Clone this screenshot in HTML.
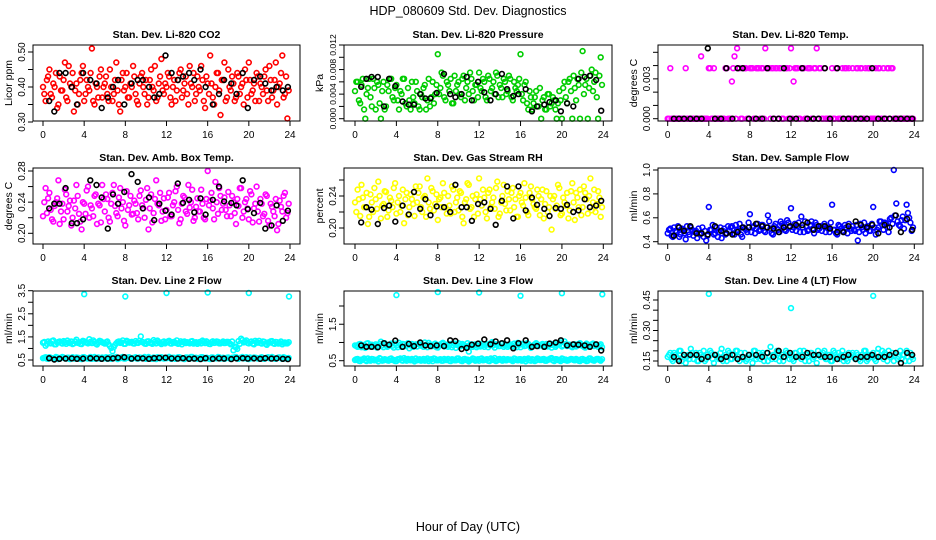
<!DOCTYPE html>
<html><head><meta charset="utf-8"><style>
html,body{margin:0;padding:0;background:#fff;}
svg{display:block;font-family:"Liberation Sans",Arial,sans-serif;}
</style></head><body>
<svg id="chart" width="936" height="540" viewBox="0 0 936 540" xmlns="http://www.w3.org/2000/svg">
<text x="468" y="15" text-anchor="middle" font-size="12.5">HDP_080609  Std. Dev. Diagnostics</text>
<text x="468" y="531" text-anchor="middle" font-size="12.5">Hour of Day (UTC)</text>
</svg>
<script>
// ---------- data ----------
const hours96 = [0,.25,.5,.75,1,1.25,1.5,1.75,2,2.25,2.5,2.75,3,3.25,3.5,3.75,4,4.25,4.5,4.75,5,5.25,5.5,5.75,6,6.25,6.5,6.75,7,7.25,7.5,7.75,8,8.25,8.5,8.75,9,9.25,9.5,9.75,10,10.25,10.5,10.75,11,11.25,11.5,11.75,12,12.25,12.5,12.75,13,13.25,13.5,13.75,14,14.25,14.5,14.75,15,15.25,15.5,15.75,16,16.25,16.5,16.75,17,17.25,17.5,17.75,18,18.25,18.5,18.75,19,19.25,19.5,19.75,20,20.25,20.5,20.75,21,21.25,21.5,21.75,22,22.25,22.5,22.75,23,23.25,23.5,23.75];
const hours96b = [.125,.375,.625,.875,1.125,1.375,1.625,1.875,2.125,2.375,2.625,2.875,3.125,3.375,3.625,3.875,4.125,4.375,4.625,4.875,5.125,5.375,5.625,5.875,6.125,6.375,6.625,6.875,7.125,7.375,7.625,7.875,8.125,8.375,8.625,8.875,9.125,9.375,9.625,9.875,10.125,10.375,10.625,10.875,11.125,11.375,11.625,11.875,12.125,12.375,12.625,12.875,13.125,13.375,13.625,13.875,14.125,14.375,14.625,14.875,15.125,15.375,15.625,15.875,16.125,16.375,16.625,16.875,17.125,17.375,17.625,17.875,18.125,18.375,18.625,18.875,19.125,19.375,19.625,19.875,20.125,20.375,20.625,20.875,21.125,21.375,21.625,21.875,22.125,22.375,22.625,22.875,23.125,23.375,23.625,23.875];
const blackHours = [0.6,1.1,1.6,2.2,2.8,3.3,3.9,4.6,5.2,5.7,6.3,6.8,7.3,7.9,8.6,9.2,9.7,10.3,10.8,11.3,11.9,12.5,13.1,13.6,14.2,14.7,15.3,15.8,16.5,17.1,17.6,18.3,18.8,19.4,19.9,20.5,21.1,21.6,22.2,22.7,23.3,23.8];
const outlierHours6 = [4,8,12,16,20,23.9];
const outlierHours3 = [4,12,20];
const xTicks = [0,4,8,12,16,20,24];

const co2Red = [.40,.36,.43,.38,.41,.44,.35,.39,.42,.37,.46,.40,
.33,.41,.38,.44,.36,.42,.39,.51,.35,.40,.43,.37,
.41,.38,.45,.36,.42,.39,.33,.44,.40,.37,.41,.46,
.38,.35,.43,.40,.42,.37,.45,.39,.36,.41,.48,.38,
.40,.43,.35,.42,.39,.44,.37,.41,.38,.46,.40,.36,
.43,.39,.42,.34,.41,.49,.37,.40,.44,.32,.42,.36,
.45,.39,.41,.37,.43,.40,.35,.42,.47,.38,.41,.44,
.36,.40,.43,.39,.46,.37,.42,.35,.41,.49,.38,.31];
const co2Red2 = [.38,.42,.45,.37,.40,.34,.43,.39,.47,.36,.41,.44,
.39,.35,.42,.46,.38,.40,.44,.36,.41,.37,.45,.40,
.43,.36,.40,.38,.47,.35,.42,.39,.44,.37,.40,.43,
.36,.41,.44,.38,.35,.42,.40,.46,.37,.43,.39,.41,
.44,.37,.40,.36,.42,.45,.39,.43,.35,.41,.44,.38,
.40,.46,.36,.43,.38,.41,.35,.44,.39,.42,.47,.37,
.40,.43,.36,.44,.38,.41,.45,.37,.42,.39,.36,.43,
.41,.38,.45,.36,.42,.39,.47,.40,.44,.37,.43,.39];
const co2Black = [.36,.33,.44,.44,.40,.35,.44,.42,.41,.34,.37,.40,.42,.35,.41,.42,.42,.40,.37,.38,.49,.44,.42,.43,.44,.42,.45,.40,.35,.38,.42,.41,.38,.44,.34,.42,.43,.41,.39,.40,.39,.40];

const presGreen = [.0045,.0060,.0025,.0065,.0000,.0050,.0035,.0065,.0015,.0055,.0000,.0060,.0020,.0045,.0065,.0030,
.0055,.0015,.0040,.0065,.0020,.0030,.0060,.0025,.0045,.0015,.0035,.0055,.0030,.0020,.0060,.0040,
.0105,.0050,.0070,.0030,.0055,.0065,.0025,.0045,.0060,.0035,.0070,.0050,.0040,.0065,.0030,.0055,
.0075,.0045,.0060,.0030,.0065,.0050,.0040,.0070,.0055,.0035,.0060,.0045,.0065,.0030,.0050,.0055,
.0105,.0030,.0060,.0015,.0035,.0025,.0045,.0020,.0000,.0035,.0015,.0040,.0025,.0030,.0000,.0045,
.0000,.0060,.0025,.0065,.0000,.0050,.0065,.0000,.0110,.0055,.0000,.0070,.0045,.0075,.0000,.0100];
const presGreen2 = [.0060,.0030,.0055,.0015,.0040,.0065,.0020,.0050,.0060,.0025,.0045,.0015,.0055,.0065,.0035,.0050,
.0030,.0045,.0065,.0025,.0050,.0015,.0035,.0060,.0020,.0040,.0050,.0015,.0065,.0035,.0025,.0055,
.0040,.0075,.0035,.0060,.0045,.0025,.0070,.0055,.0040,.0065,.0030,.0060,.0075,.0045,.0055,.0035,
.0050,.0065,.0035,.0070,.0045,.0060,.0075,.0035,.0050,.0065,.0040,.0070,.0035,.0060,.0045,.0065,
.0040,.0055,.0025,.0045,.0015,.0035,.0020,.0050,.0030,.0015,.0040,.0020,.0035,.0015,.0025,.0030,
.0050,.0035,.0060,.0045,.0070,.0030,.0055,.0075,.0040,.0065,.0050,.0080,.0060,.0035,.0070,.0055];
const presBlack = [.0052,.0065,.0068,.0068,.0020,.0065,.0053,.0028,.0023,.0023,.0040,.0033,.0033,.0042,.0073,.0040,.0035,.0040,.0068,.0030,.0060,.0043,.0030,.0040,.0073,.0048,.0037,.0040,.0048,.0012,.0020,.0023,.0027,.0030,.0012,.0025,.0020,.0065,.0068,.0070,.0063,.0013];

const tempMagenta = [0,.0038,0,0,0,0,0,.0038,0,0,0,0,
0,.0047,0,0,.0038,0,.0038,0,0,0,0,.0038,
0,.0028,.0047,.0053,.0038,0,.0038,0,.0038,.0038,0,.0038,
0,.0038,.0053,.0038,0,.0038,.0038,0,.0038,0,.0038,0,
.0053,.0028,.0038,0,.0038,.0038,0,.0038,0,.0038,.0053,.0038,
0,.0038,0,0,.0038,0,.0038,0,.0038,.0038,0,0,
.0038,0,.0038,.0038,0,.0038,.0038,0,0,.0038,.0038,0,
.0038,0,.0038,.0038,0,0,0,0,0,0,0,0];
const tempMagenta2 = [0,0,0,0,0,0,0,0,0,0,0,0,
0,0,0,0,.0038,0,0,0,0,0,.0038,0,
0,.0038,0,.0038,0,.0038,.0038,0,.0038,0,.0038,.0038,
.0038,0,.0038,.0038,.0038,0,.0038,.0038,0,.0038,.0038,.0038,
0,.0038,.0038,0,.0038,0,.0038,.0038,0,.0038,0,.0038,
0,0,0,0,0,.0038,0,0,0,.0038,.0038,0,
0,.0038,0,.0038,0,0,.0038,0,0,0,.0038,0,
0,.0038,0,.0038,0,0,0,0,0,0,0,0];
const tempBlack = [0,0,0,0,0,0,.0053,0,0,.0038,0,.0038,.0038,0,0,0,.0038,0,0,.0038,0,0,.0038,0,0,0,.0038,0,.0038,0,0,0,0,0,.0038,0,0,0,0,0,0,0];

const ambMagenta = [.222,.258,.245,.230,.215,.240,.268,.228,.218,.250,.235,.210,
.242,.262,.225,.205,.238,.255,.220,.232,.248,.212,.236,.262,
.228,.244,.215,.252,.235,.222,.258,.240,.210,.230,.248,.225,
.238,.218,.255,.232,.243,.205,.250,.226,.268,.236,.216,.245,
.230,.252,.222,.240,.260,.213,.238,.246,.225,.233,.256,.220,
.245,.228,.238,.218,.280,.242,.232,.266,.225,.248,.238,.230,
.253,.222,.240,.212,.235,.258,.228,.244,.218,.250,.232,.260,
.215,.238,.225,.248,.210,.234,.222,.204,.242,.228,.252,.226];
const ambMagenta2 = [.240,.226,.252,.218,.235,.245,.212,.238,.256,.228,.242,.220,
.232,.248,.215,.240,.225,.260,.236,.222,.250,.238,.214,.244,
.250,.220,.238,.262,.226,.246,.232,.216,.254,.236,.224,.242,
.226,.248,.236,.220,.258,.232,.214,.244,.238,.252,.228,.218,
.246,.222,.236,.254,.230,.218,.248,.228,.262,.240,.216,.234,
.228,.256,.220,.244,.236,.252,.218,.240,.258,.230,.246,.222,
.236,.248,.226,.244,.258,.220,.240,.232,.254,.214,.238,.228,
.244,.222,.250,.216,.238,.228,.244,.212,.234,.248,.220,.238];
const ambBlack = [.232,.238,.238,.258,.213,.213,.218,.268,.262,.246,.206,.250,.238,.253,.276,.266,.232,.246,.217,.238,.229,.224,.264,.239,.243,.227,.245,.224,.243,.260,.241,.239,.236,.268,.231,.226,.239,.206,.210,.236,.216,.229];

const rhYellow = [.232,.248,.215,.238,.226,.205,.242,.220,.236,.258,.212,.230,
.245,.222,.234,.250,.218,.240,.228,.206,.244,.226,.236,.215,
.232,.252,.220,.240,.262,.224,.246,.230,.210,.238,.256,.226,
.240,.218,.248,.232,.222,.244,.206,.236,.254,.226,.214,.242,
.262,.228,.238,.212,.248,.232,.224,.258,.218,.240,.230,.246,
.222,.250,.236,.214,.244,.228,.238,.216,.252,.230,.224,.240,
.236,.212,.246,.226,.198,.240,.228,.250,.218,.232,.244,.222,
.256,.210,.238,.248,.226,.244,.218,.262,.232,.220,.246,.214];
const rhYellow2 = [.220,.236,.254,.226,.244,.214,.232,.250,.224,.240,.228,.246,
.214,.238,.226,.256,.232,.220,.248,.236,.216,.242,.230,.252,
.244,.226,.238,.214,.232,.250,.222,.242,.236,.226,.244,.218,
.228,.252,.220,.238,.246,.214,.232,.256,.224,.240,.236,.218,
.236,.248,.220,.244,.226,.238,.250,.214,.232,.254,.222,.236,
.244,.226,.214,.240,.232,.256,.220,.244,.236,.226,.248,.216,
.248,.230,.220,.240,.236,.224,.254,.216,.238,.228,.212,.246,
.232,.244,.226,.216,.252,.236,.240,.222,.248,.230,.238,.226];
const rhBlack = [.207,.226,.223,.205,.225,.228,.208,.228,.217,.245,.224,.236,.216,.227,.226,.220,.254,.226,.226,.209,.230,.232,.224,.204,.234,.252,.212,.252,.222,.238,.229,.224,.215,.225,.224,.229,.220,.222,.236,.226,.228,.234];

const flowBlue = [.47,.51,.44,.49,.53,.46,.50,.42,.48,.52,.45,.49,
.51,.47,.44,.41,.69,.50,.46,.52,.48,.43,.51,.47,
.49,.53,.46,.50,.55,.44,.51,.48,.63,.52,.47,.55,
.50,.54,.48,.62,.51,.46,.55,.50,.57,.53,.49,.56,
.68,.52,.49,.56,.61,.48,.53,.50,.57,.47,.54,.51,
.49,.55,.52,.48,.71,.50,.46,.53,.49,.54,.47,.51,
.53,.49,.41,.55,.50,.47,.53,.49,.69,.46,.52,.57,
.50,.55,.48,.60,1.00,.72,.54,.58,.51,.71,.60,.49];
const flowBlue2 = [.50,.45,.52,.48,.44,.51,.47,.53,.46,.50,.48,.43,
.46,.52,.49,.45,.50,.54,.47,.44,.52,.49,.46,.53,
.52,.47,.54,.49,.46,.52,.50,.56,.48,.53,.51,.49,
.54,.49,.52,.57,.47,.53,.51,.48,.55,.50,.58,.52,
.50,.55,.53,.48,.52,.57,.49,.54,.51,.56,.50,.53,
.53,.48,.51,.56,.50,.47,.54,.51,.48,.52,.55,.49,
.50,.54,.48,.52,.56,.51,.49,.55,.52,.50,.57,.54,
.56,.52,.59,.55,.62,.57,.53,.61,.58,.64,.56,.52];
const flowBlack = [.45,.52,.49,.53,.47,.47,.46,.53,.49,.47,.46,.48,.52,.52,.55,.53,.52,.51,.48,.52,.53,.54,.54,.56,.50,.53,.53,.51,.48,.48,.53,.57,.54,.52,.54,.47,.54,.52,.62,.48,.59,.50];

const line2High = [1.25,1.12,1.30,1.22,1.35,1.18,1.28,1.24,1.32,1.20,1.26,1.30,
1.22,1.38,1.27,1.19,1.31,1.25,1.40,1.23,1.29,1.17,1.33,1.26,
1.21,1.30,1.10,0.88,1.15,1.28,1.24,1.35,1.20,1.30,1.26,1.22,
1.32,1.24,1.52,1.27,1.20,1.31,1.25,1.36,1.22,1.28,1.19,1.30,
1.26,1.33,1.21,1.29,1.35,1.24,1.18,1.30,1.27,1.22,1.32,1.25,
1.20,1.28,1.34,1.23,1.26,1.19,1.31,1.25,1.29,1.22,1.30,1.24,
1.28,1.18,0.92,1.05,1.32,1.42,1.26,1.35,1.22,1.30,1.18,1.27,
1.33,1.21,1.29,1.16,1.25,1.32,1.20,1.27,1.23,1.18,1.26,1.22];
const line2High2 = [1.28,1.20,1.24,1.32,1.18,1.26,1.30,1.21,1.27,1.34,1.23,1.19,
1.30,1.24,1.20,1.33,1.27,1.22,1.29,1.35,1.21,1.26,1.31,1.24,
1.27,1.18,1.02,1.06,1.22,1.30,1.26,1.20,1.33,1.25,1.29,1.21,
1.25,1.33,1.28,1.21,1.30,1.24,1.20,1.29,1.34,1.23,1.27,1.22,
1.30,1.22,1.27,1.24,1.20,1.31,1.28,1.23,1.25,1.30,1.21,1.27,
1.26,1.22,1.29,1.31,1.20,1.27,1.24,1.30,1.22,1.26,1.23,1.29,
1.22,1.30,1.08,0.98,1.20,1.36,1.30,1.24,1.28,1.21,1.33,1.25,
1.24,1.30,1.20,1.26,1.31,1.22,1.28,1.21,1.30,1.25,1.22,1.27];
const line2Low = [.58,.62,.55,.60,.57,.63,.54,.59,.61,.56,.60,.58,
.56,.61,.59,.54,.62,.57,.60,.55,.63,.58,.56,.61,
.59,.55,.62,.57,.60,.54,.58,.63,.56,.61,.57,.59,
.62,.56,.60,.58,.55,.63,.57,.61,.54,.59,.62,.56,
.58,.64,.55,.60,.57,.62,.59,.54,.61,.56,.63,.58,
.55,.60,.62,.57,.59,.54,.61,.58,.63,.56,.60,.57,
.61,.56,.59,.63,.55,.60,.57,.62,.54,.58,.61,.59,
.57,.62,.55,.60,.58,.63,.56,.59,.61,.55,.60,.57];
const line2Low2 = [.60,.56,.62,.58,.55,.61,.59,.63,.57,.60,.54,.62,
.57,.60,.55,.62,.59,.56,.63,.58,.55,.61,.59,.57,
.62,.58,.55,.60,.63,.57,.61,.56,.59,.62,.55,.60,
.56,.61,.58,.63,.57,.60,.55,.59,.62,.57,.60,.58,
.61,.57,.60,.55,.62,.58,.56,.61,.59,.63,.57,.60,
.58,.62,.56,.60,.55,.61,.59,.57,.62,.58,.55,.60,
.57,.60,.62,.56,.59,.63,.58,.55,.61,.57,.60,.56,
.60,.56,.59,.62,.57,.60,.55,.61,.58,.62,.56,.59];
const line2Out = [3.35,3.25,3.40,3.42,3.40,3.25];
const line2Black = [.58,.52,.55,.56,.57,.55,.56,.58,.57,.55,.56,.57,.60,.62,.56,.58,.57,.55,.58,.59,.60,.57,.56,.58,.55,.56,.54,.58,.55,.57,.56,.54,.57,.58,.56,.57,.55,.58,.56,.57,.55,.54];

const line3High = [.92,.88,.96,.90,.85,.98,.93,.89,.95,.91,1.02,.87,
.94,.90,.97,.86,.92,.99,.88,.95,.91,.84,.96,.93,
.89,.95,.92,1.00,.87,.94,.90,.97,.86,.93,.99,.91,
.88,.96,.92,.85,.98,.90,.94,.89,.75,.95,.92,.87,
.97,.91,.88,.95,.93,1.01,.86,.94,.90,.97,.92,.88,
.95,.89,.93,.99,.87,.94,.91,.96,.85,.92,.98,.90,
.93,.88,.96,.91,.86,.97,.92,.95,.89,1.03,.90,.94,
.87,.95,.91,.98,.92,.86,.94,.90,.97,.93,.88,.95];
const line3High2 = [.90,.95,.87,.93,.97,.89,.94,.91,.86,.96,.92,.98,
.88,.94,.91,.97,.87,.93,.96,.90,.98,.92,.88,.95,
.96,.91,.88,.94,.99,.90,.95,.87,.93,.97,.89,.94,
.92,.87,.97,.93,.89,.96,.91,.98,.94,.88,.95,.91,
.89,.96,.93,.87,.98,.92,.95,.90,.97,.88,.94,.92,
.91,.97,.87,.94,.96,.90,.98,.92,.88,.95,.91,.93,
.96,.91,.89,.97,.93,.88,.95,1.00,.92,.96,.94,.89,
.93,.89,.96,.92,.88,.97,.91,.95,.90,.94,.92,.87];
const line3Low = [.52,.55,.49,.53,.51,.56,.50,.54,.52,.48,.55,.51,
.53,.50,.56,.52,.49,.54,.51,.57,.50,.53,.55,.48,
.51,.54,.52,.50,.56,.53,.49,.55,.51,.54,.50,.52,
.55,.49,.53,.51,.56,.50,.54,.52,.48,.53,.55,.51,
.50,.56,.52,.54,.49,.53,.57,.51,.55,.50,.52,.54,
.53,.49,.55,.51,.54,.52,.48,.56,.50,.53,.51,.55,
.52,.55,.50,.53,.57,.49,.54,.51,.56,.52,.50,.53,
.54,.51,.53,.49,.55,.52,.50,.56,.51,.53,.55,.50];
const line3Low2 = [.54,.50,.53,.56,.49,.52,.55,.51,.53,.57,.50,.54,
.51,.55,.52,.49,.54,.56,.50,.53,.55,.51,.52,.56,
.53,.50,.55,.52,.49,.54,.56,.51,.53,.50,.55,.52,
.50,.54,.51,.56,.52,.49,.55,.53,.51,.56,.50,.54,
.55,.51,.53,.50,.56,.52,.49,.54,.52,.55,.51,.53,
.51,.56,.52,.54,.50,.55,.53,.51,.54,.49,.56,.52,
.54,.50,.53,.56,.51,.54,.52,.49,.55,.53,.51,.55,
.52,.55,.50,.54,.52,.49,.56,.53,.50,.55,.52,.54];
const line3Out = [2.30,2.38,2.37,2.28,2.35,2.32];
const line3Black = [.92,.88,.88,.87,.98,.94,1.05,.88,.96,.90,1.00,.92,.90,.92,.90,1.06,1.04,.82,.85,.94,.97,1.08,.95,1.03,.98,1.06,.84,.98,1.06,.88,.90,.88,.97,1.00,1.06,.92,.95,.94,.92,.88,.95,.78];

const line4Cyan = [.17,.19,.15,.18,.16,.20,.17,.14,.18,.21,.16,.19,
.15,.18,.20,.16,.17,.19,.14,.18,.16,.21,.17,.15,
.19,.16,.18,.20,.15,.17,.19,.16,.18,.14,.20,.17,
.16,.19,.17,.15,.22,.18,.16,.19,.17,.15,.20,.18,
.18,.15,.19,.17,.16,.20,.18,.15,.19,.17,.14,.18,
.17,.20,.16,.18,.15,.19,.17,.16,.20,.18,.15,.17,
.19,.16,.18,.15,.17,.20,.16,.18,.19,.15,.21,.17,
.16,.18,.20,.17,.15,.19,.17,.16,.18,.20,.15,.17];
const line4Cyan2 = [.18,.16,.19,.17,.20,.15,.18,.17,.16,.19,.18,.15,
.19,.17,.15,.18,.20,.16,.18,.17,.19,.15,.18,.20,
.16,.18,.20,.17,.19,.16,.15,.18,.17,.20,.16,.19,
.18,.15,.19,.17,.16,.18,.20,.15,.18,.17,.19,.16,
.16,.19,.17,.20,.18,.15,.17,.19,.16,.18,.20,.17,
.19,.16,.18,.15,.20,.17,.19,.18,.15,.16,.19,.18,
.17,.19,.16,.18,.20,.15,.18,.17,.16,.19,.17,.20,
.19,.15,.17,.19,.18,.16,.20,.18,.15,.17,.19,.16];
const line4Out = [.48,.41,.47];
const line4Black = [.17,.15,.18,.18,.18,.16,.17,.18,.16,.17,.18,.16,.17,.18,.18,.17,.19,.17,.20,.17,.19,.17,.17,.19,.18,.18,.17,.17,.16,.17,.18,.16,.17,.17,.18,.17,.17,.18,.19,.14,.19,.18];

// y tick values and printed labels
const ticksCo2 = [.30,.35,.40,.45,.50], labelsCo2 = ["0.30","0.40","0.50"];
const ticksPres = [0,.002,.004,.006,.008,.010,.012], labelsPres = ["0.000","0.004","0.008","0.012"];
const ticksTemp = [0,.001,.002,.003,.004,.005], labelsTemp = ["0.000","0.003"];
const ticksAmb = [.20,.22,.24,.26,.28], labelsAmb = ["0.20","0.24","0.28"];
const ticksRh = [.20,.22,.24,.26], labelsRh = ["0.20","0.24"];
const ticksFlow = [.4,.6,.8,1.0], labelsFlow = ["0.4","0.6","0.8","1.0"];
const ticksL2 = [.5,1,1.5,2,2.5,3,3.5], labelsL2 = ["0.5","1.5","2.5","3.5"];
const ticksL3 = [.5,1,1.5,2], labelsL3 = ["0.5","1.5"];
const ticksL4 = [.15,.20,.25,.30,.35,.40,.45], labelsL4 = ["0.15","0.30","0.45"];

// ---------- layout (geometry, not data) ----------
const colL=[33,344,658], colR=[300,612,923], colX0=[43,355,667.7], colX24=[290,603.3,914.3];
const rowT=[45,168,291], rowB=[121,244,366];
const NS="http://www.w3.org/2000/svg";
const svg=document.getElementById('chart');
function mk(tag,attrs,parent){const e=document.createElementNS(NS,tag);for(const k in attrs)e.setAttribute(k,attrs[k]);(parent||svg).appendChild(e);return e;}
const CY="cyan";

const panels=[
 {name:"co2",title:"Stan. Dev. Li-820 CO2",ylab:"Licor ppm",col:0,row:0,ref:[.30,122,.50,52],ticks:ticksCo2,labels:labelsCo2,fs:10,
  series:[{h:hours96,v:co2Red,c:"red",n:"red-points"},{h:hours96b,v:co2Red2,c:"red",n:"red-points-b"},{h:blackHours,v:co2Black,c:"black",n:"black-points"}]},
 {name:"pressure",title:"Stan. Dev. Li-820 Pressure",ylab:"kPa",col:1,row:0,ref:[0,118.7,.012,45],ticks:ticksPres,labels:labelsPres,fs:8.6,
  series:[{h:hours96,v:presGreen,c:"#00cd00",n:"green-points"},{h:hours96b,v:presGreen2,c:"#00cd00",n:"green-points-b"},{h:blackHours,v:presBlack,c:"black",n:"black-points"}]},
 {name:"temp",title:"Stan. Dev. Li-820 Temp.",ylab:"degrees C",col:2,row:0,ref:[0,118.7,.005,52.3],ticks:ticksTemp,labels:labelsTemp,fs:10,
  series:[{h:hours96,v:tempMagenta,c:"magenta",n:"magenta-points"},{h:hours96b,v:tempMagenta2,c:"magenta",n:"magenta-points-b"},{h:blackHours,v:tempBlack,c:"black",n:"black-points"}]},
 {name:"amb-box",title:"Stan. Dev. Amb. Box Temp.",ylab:"degrees C",col:0,row:1,ref:[.20,233.3,.28,171],ticks:ticksAmb,labels:labelsAmb,fs:10,
  series:[{h:hours96,v:ambMagenta,c:"magenta",n:"magenta-points"},{h:hours96b,v:ambMagenta2,c:"magenta",n:"magenta-points-b"},{h:blackHours,v:ambBlack,c:"black",n:"black-points"}]},
 {name:"rh",title:"Stan. Dev. Gas Stream RH",ylab:"percent",col:1,row:1,ref:[.20,228,.26,180],ticks:ticksRh,labels:labelsRh,fs:10,
  series:[{h:hours96,v:rhYellow,c:"yellow",n:"yellow-points"},{h:hours96b,v:rhYellow2,c:"yellow",n:"yellow-points-b"},{h:blackHours,v:rhBlack,c:"black",n:"black-points"}]},
 {name:"sample-flow",title:"Stan. Dev. Sample Flow",ylab:"ml/min",col:2,row:1,ref:[.4,241.7,1.0,170],ticks:ticksFlow,labels:labelsFlow,fs:10,
  series:[{h:hours96,v:flowBlue,c:"blue",n:"blue-points"},{h:hours96b,v:flowBlue2,c:"blue",n:"blue-points-b"},{h:blackHours,v:flowBlack,c:"black",n:"black-points"}]},
 {name:"line2",title:"Stan. Dev. Line 2 Flow",ylab:"ml/min",col:0,row:2,ref:[.5,360,3.5,290.7],ticks:ticksL2,labels:labelsL2,fs:10,
  series:[{h:hours96,v:line2High,c:CY,n:"cyan-high-points"},{h:hours96b,v:line2High2,c:CY,n:"cyan-high-points-b"},{h:hours96,v:line2Low,c:CY,n:"cyan-low-points"},{h:hours96b,v:line2Low2,c:CY,n:"cyan-low-points-b"},{h:outlierHours6,v:line2Out,c:CY,n:"cyan-outliers"},{h:blackHours,v:line2Black,c:"black",n:"black-points"}]},
 {name:"line3",title:"Stan. Dev. Line 3 Flow",ylab:"ml/min",col:1,row:2,ref:[.5,360.7,2.0,306],ticks:ticksL3,labels:labelsL3,fs:10,
  series:[{h:hours96,v:line3High,c:CY,n:"cyan-high-points"},{h:hours96b,v:line3High2,c:CY,n:"cyan-high-points-b"},{h:hours96,v:line3Low,c:CY,n:"cyan-low-points"},{h:hours96b,v:line3Low2,c:CY,n:"cyan-low-points-b"},{h:outlierHours6,v:line3Out,c:CY,n:"cyan-outliers"},{h:blackHours,v:line3Black,c:"black",n:"black-points"}]},
 {name:"line4",title:"Stan. Dev. Line 4 (LT) Flow",ylab:"ml/min",col:2,row:2,ref:[.15,361,.45,300],ticks:ticksL4,labels:labelsL4,fs:10,
  series:[{h:hours96,v:line4Cyan,c:CY,n:"cyan-points"},{h:hours96b,v:line4Cyan2,c:CY,n:"cyan-points-b"},{h:outlierHours3,v:line4Out,c:CY,n:"cyan-outliers"},{h:blackHours,v:line4Black,c:"black",n:"black-points"}]}
];

panels.forEach(p=>{
  const L=colL[p.col],R=colR[p.col],T=rowT[p.row],B=rowB[p.row];
  const x0=colX0[p.col],x24=colX24[p.col];
  const xs=h=>x0+(x24-x0)*h/24;
  const [v1,p1,v2,p2]=p.ref;
  const ys=v=>p1+(v-v1)*(p2-p1)/(v2-v1);
  const g=mk('g',{});
  
  
  const t=mk('text',{x:(L+R)/2,y:T-7,'text-anchor':'middle','font-size':'10.5','font-weight':'bold'},g);
  t.textContent=p.title;
  
  
  const yt=mk('text',{x:0,y:0,'text-anchor':'middle','font-size':'10.5',transform:`translate(${L-21},${(T+B)/2}) rotate(-90)`},g);
  yt.textContent=p.ylab;
  
  
  p.series.forEach(s=>{
    const sg=mk('g',{fill:'none',stroke:s.c,'stroke-width':'1.6'},g);
    
    
    const n=Math.min(s.h.length,s.v.length);
    for(let i=0;i<n;i++){
      const c=mk('circle',{cx:xs(s.h[i]).toFixed(1),cy:ys(s.v[i]).toFixed(1),r:'2.4',stroke:s.c},sg);
      
      
    }
  });
  const bx=mk('rect',{x:L,y:T,width:R-L,height:B-T,fill:'none',stroke:'#000','stroke-width':'1'},g);
  
  
  const xa=mk('g',{stroke:'#000','stroke-width':'1'},g);
  
  
  xTicks.forEach(h=>{
    mk('line',{x1:xs(h),x2:xs(h),y1:B,y2:B+5},xa);
    const tl=mk('text',{x:xs(h),y:B+17,'text-anchor':'middle','font-size':'10',stroke:'none',fill:'#000'},g);
    tl.textContent=String(h);
    
    
  });
  const ya=mk('g',{stroke:'#000','stroke-width':'1'},g);
  
  
  p.ticks.forEach(v=>{ mk('line',{x1:L-5,x2:L,y1:ys(v),y2:ys(v)},ya); });
  p.labels.forEach(lbl=>{
    const v=parseFloat(lbl);
    const tl=mk('text',{x:0,y:0,'text-anchor':'middle','font-size':String(p.fs),transform:`translate(${L-8},${ys(v)}) rotate(-90)`},g);
    tl.textContent=lbl;
    
    
  });
});
</script>
</body></html>
